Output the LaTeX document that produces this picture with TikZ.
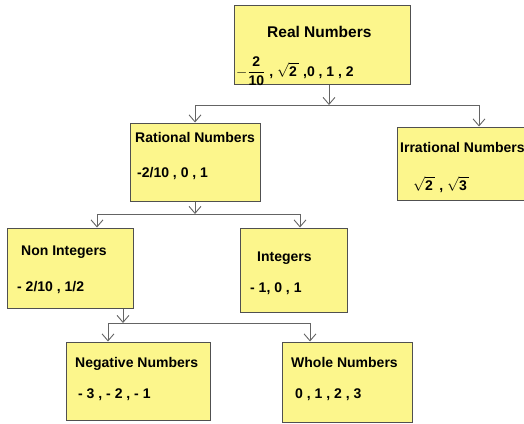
\documentclass[tikz,border=0pt]{standalone}
\usepackage{amsmath}
\usepackage{fontspec}
\setmainfont{Liberation Sans}
\usetikzlibrary{arrows.meta}
\definecolor{boxfill}{RGB}{252,246,140}
\definecolor{boxline}{RGB}{80,80,80}
\definecolor{wire}{RGB}{100,100,100}

\begin{document}
\begin{tikzpicture}[
  x=1pt, y=-1pt,
  box/.style={rectangle, draw=boxline, fill=boxfill, line width=1pt, inner sep=0pt},
  title/.style={anchor=base west, inner sep=0pt, font=\fontsize{14}{16}\selectfont\bfseries},
  vals/.style={anchor=base west, inner sep=0pt, font=\fontsize{14}{16}\selectfont\bfseries},
  line/.style={draw=wire, line width=0.9pt},
  arr/.style={line, -{Straight Barb[length=7pt, width=12pt, line width=0.9pt]}}
]
\useasboundingbox (0,0) rectangle (524,423);
\clip (0,0) rectangle (524,423);
% boxes
\node[box, minimum width=176pt, minimum height=79pt] (real) at (322,44.5) {};
\node[box, minimum width=130pt, minimum height=78pt] (rational) at (195,162) {};
\node[box, minimum width=164pt, minimum height=73pt] (irrational) at (479,163.5) {};
\node[box, minimum width=126pt, minimum height=80pt] (nonint) at (70,268) {};
\node[box, minimum width=107pt, minimum height=84pt] (integers) at (293.5,270) {};
\node[box, minimum width=144pt, minimum height=78pt] (negative) at (138,381) {};
\node[box, minimum width=130pt, minimum height=80pt] (whole) at (347,382) {};
% texts
\node[title, font=\fontsize{15.5}{18}\selectfont\bfseries] (realT) at (267,37) {Real Numbers};
\node[vals] (realV) at (236,76) {$-\dfrac{\text{2}}{\text{10}}$ , $\sqrt{\text{2}\,}$ ,0 , 1 , 2};
\node[title] (rationalT) at (135,142) {Rational Numbers};
\node[vals] (rationalV) at (137,177) {-2/10 , 0 , 1};
\node[title] (irrationalT) at (400,152) {Irrational Numbers};
\node[vals] (irrationalV) at (413,190) {$\sqrt{\text{2}\,}$ , $\sqrt{\text{3}\,}$};
\node[title] (nonintT) at (21,255) {Non Integers};
\node[vals] (nonintV) at (17,291) {- 2/10 , 1/2};
\node[title] (integersT) at (257,261) {Integers};
\node[vals] (integersV) at (250,292) {- 1, 0 , 1};
\node[title] (negativeT) at (75,367) {Negative Numbers};
\node[vals] (negativeV) at (78,398) {- 3 , - 2 , - 1};
\node[title] (wholeT) at (291,367) {Whole Numbers};
\node[vals] (wholeV) at (295,398) {0 , 1 , 2 , 3};
% buses
\coordinate (bus1) at (329,105);
\coordinate (bus2l) at (97,214);
\coordinate (bus2r) at (300,214);
\coordinate (bus3) at (123,323);
\coordinate (bus3l) at (108,323);
\coordinate (bus3r) at (310,323);
% connectors
\draw[arr] (real.south -| bus1) -- (bus1);
\draw[line] (bus1 -| rational.north) -- (bus1 -| irrational.north);
\draw[arr] (bus1 -| rational.north) -- (rational.north);
\draw[arr] (bus1 -| irrational.north) -- (irrational.north);
\draw[arr] (rational.south) -- (rational.south |- bus2l);
\draw[line] (bus2l) -- (bus2r);
\draw[arr] (bus2l) -- (bus2l |- nonint.north);
\draw[arr] (bus2r) -- (bus2r |- integers.north);
\draw[arr] (nonint.south -| bus3) -- (bus3);
\draw[line] (bus3l) -- (bus3r);
\draw[arr] (bus3l) -- (bus3l |- negative.north);
\draw[arr] (bus3r) -- (bus3r |- whole.north);
\end{tikzpicture}
\end{document}
